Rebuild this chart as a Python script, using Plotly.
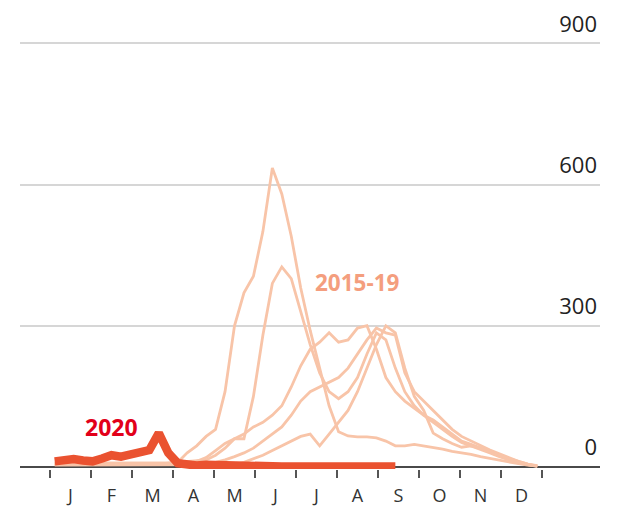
import plotly.graph_objects as go

# ---- data (weekly) ----
weeks = list(range(1, 53))
months = ["J", "F", "M", "A", "M", "J", "J", "A", "S", "O", "N", "D"]

y2020 = [12, 15, 17, 14, 12, 18, 25, 22, 28, 32, 36, 72, 30, 8, 4, 3, 5, 4, 6, 3,
         2, 2, 1, 1, 1, 1, 1, 1, 1, 1, 1, 1, 1, 1, 1, 1, 1]

hist_a = [8, 8, 8, 8, 8, 8, 8, 8, 8, 8, 8, 8, 8, 10, 30, 45, 65, 80, 160, 300,
          370, 405, 500, 635, 580, 490, 380, 290, 210, 130, 75, 66, 64, 64, 62, 55,
          45, 45, 48, 45, 42, 38, 33, 30, 27, 22, 18, 14, 10, 7, 4, 2]
hist_b = [6, 6, 6, 6, 6, 6, 6, 6, 6, 6, 6, 6, 8, 10, 12, 14, 15, 25, 40, 60,
          60, 150, 280, 390, 425, 400, 330, 260, 200, 160, 145, 160, 190, 240, 285, 270,
          210, 160, 130, 110, 100, 85, 70, 55, 48, 40, 33, 25, 18, 12, 6, 3]
hist_c = [8, 8, 8, 8, 8, 8, 8, 8, 8, 8, 8, 8, 8, 8, 8, 12, 20, 35, 50, 60,
          70, 85, 95, 110, 130, 170, 215, 250, 265, 285, 265, 270, 295, 300, 250, 190,
          160, 140, 125, 110, 95, 80, 65, 52, 45, 38, 30, 22, 15, 10, 5, 2]
hist_d = [5, 5, 5, 5, 5, 5, 5, 5, 5, 5, 5, 5, 5, 5, 5, 5, 5, 10, 15, 22,
          30, 40, 55, 70, 85, 110, 140, 160, 170, 180, 190, 210, 240, 270, 295, 285,
          280, 200, 160, 140, 120, 100, 80, 65, 55, 45, 36, 28, 20, 12, 6, 2]
hist_e = [4, 4, 4, 4, 4, 4, 4, 4, 4, 4, 4, 4, 4, 4, 4, 4, 5, 5, 5, 5,
          10, 18, 25, 35, 45, 55, 65, 70, 45, 70, 95, 120, 160, 210, 260, 300,
          285, 210, 150, 120, 72, 60, 50, 42, 45, 40, 32, 25, 18, 10, 5, 2]
history = [hist_a, hist_b, hist_c, hist_d, hist_e]

y_ticks = [0, 300, 600, 900]

# ---- positions ----
wpos = [w - 0.5 for w in weeks]
month_bounds = [i * 52 / 12 for i in range(13)]
month_mids = [(i + 0.5) * 52 / 12 for i in range(12)]

HIST_COLOR = "#f8c4a8"
LINE_2020 = "#ea5230"

fig = go.Figure()
for h in history:
    fig.add_trace(go.Scatter(x=wpos, y=h, mode="lines",
                             line=dict(color=HIST_COLOR, width=2.8),
                             hoverinfo="skip", showlegend=False))
fig.add_trace(go.Scatter(x=wpos[:len(y2020)], y=y2020, mode="lines",
                         line=dict(color=LINE_2020, width=8.5),
                         hoverinfo="skip", showlegend=False))

fig.add_annotation(x=6.55, y=86, text="<b>2020</b>", showarrow=False,
                   font=dict(family="Open Sans", size=23, color="#e2001a"),
                   xanchor="center", yanchor="middle")
fig.add_annotation(x=32.5, y=392, text="<b>2015-19</b>", showarrow=False,
                   font=dict(family="Open Sans", size=22.5, color="#f49e7e"),
                   xanchor="center", yanchor="middle")

fig.update_layout(
    width=618, height=510,
    margin=dict(l=20, r=18, t=15, b=41),
    plot_bgcolor="white", paper_bgcolor="white",
    xaxis=dict(range=[-3.17, 58.13], showgrid=False, zeroline=False,
               showline=False, automargin=False,
               tickvals=month_mids, ticktext=months, ticks="",
               tickfont=dict(family="Open Sans", size=18, color="#333333"),
               ticklabelstandoff=14,
               minor=dict(tickvals=month_bounds, ticks="outside", ticklen=8,
                          tickwidth=2, tickcolor="#555555", showgrid=False),
               fixedrange=True),
    yaxis=dict(range=[-4.24, 960], side="right", tickvals=y_ticks,
               ticktext=[str(v) for v in y_ticks], automargin=False,
               ticklabelposition="inside top", ticklabeloverflow="allow",
               ticklabelshift=-4,
               showgrid=True, gridcolor="#d6d6d6", gridwidth=2,
               zeroline=True, zerolinecolor="#4a4a4a", zerolinewidth=2,
               ticks="", showline=False,
               tickfont=dict(family="Open Sans", size=22, color="#222222"),
               fixedrange=True),
)

fig.write_html("out.html", config={"displayModeBar": False},
               post_script="document.body.style.margin='0px';document.body.style.overflow='hidden';")
